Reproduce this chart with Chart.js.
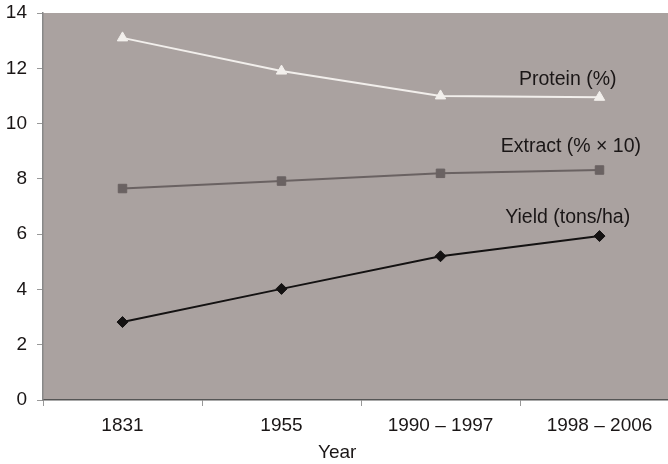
<!DOCTYPE html>
<html>
<head>
<meta charset="utf-8">
<script src="https://cdn.jsdelivr.net/npm/chart.js@4"></script>
<style>
  html, body { margin: 0; padding: 0; background: #fff; overflow: hidden; }
</style>
</head>
<body>
<canvas id="chartCanvas" width="686" height="464"></canvas>
<script>
// Data
const years = ['1831', '1955', '1990 \u2013 1997', '1998 \u2013 2006'];
const protein = [13.1, 11.9, 11.0, 10.95];
const extract = [7.65, 7.92, 8.2, 8.32];
const yieldTons = [2.82, 4.02, 5.2, 5.93];
const xTitle = 'Year';

// series labels drawn inside the plot (x = category index, y = value)
const seriesLabels = [
  { text: 'Protein (%)', x: 2.8, y: 11.6 },
  { text: 'Extract (% \u00d7 10)', x: 2.82, y: 9.15 },
  { text: 'Yield (tons/ha)', x: 2.8, y: 6.58 }
];

const fontFam = '"Liberation Sans", Arial, Helvetica, sans-serif';
const textColor = '#1a1616';

// grey plot background, in-plot labels and the x title
const plotBg = {
  id: 'plotBg',
  beforeDraw(chart) {
    const { ctx, chartArea: a } = chart;
    ctx.save();
    ctx.fillStyle = '#aaa2a0';
    ctx.fillRect(a.left, a.top, a.right - a.left, a.bottom - a.top);
    ctx.restore();
  },
  afterDatasetsDraw(chart) {
    const { ctx, scales, chartArea: a } = chart;
    ctx.save();
    ctx.fillStyle = textColor;
    ctx.font = '19.5px ' + fontFam;
    ctx.textAlign = 'center';
    ctx.textBaseline = 'middle';
    seriesLabels.forEach(l => {
      ctx.fillText(l.text, scales.x.getPixelForValue(l.x), scales.y.getPixelForValue(l.y));
    });
    // axis title sits a bit left of the plot centre in the original
    ctx.font = '19px ' + fontFam;
    ctx.fillText(xTitle, scales.x.getPixelForValue(1.35), a.bottom + 53);
    ctx.restore();
  }
};

new Chart(document.getElementById('chartCanvas'), {
  type: 'line',
  data: {
    labels: years,
    datasets: [
      {
        label: 'Protein (%)', data: protein,
        borderColor: '#f2efec', backgroundColor: '#f2efec', borderWidth: 2,
        pointStyle: 'triangle', pointRadius: 6, pointBorderWidth: 1
      },
      {
        label: 'Extract (% x 10)', data: extract,
        borderColor: '#6a6262', backgroundColor: '#6a6262', borderWidth: 2,
        pointStyle: 'rect', pointRadius: 6, pointBorderWidth: 1
      },
      {
        label: 'Yield (tons/ha)', data: yieldTons,
        borderColor: '#141212', backgroundColor: '#141212', borderWidth: 2,
        pointStyle: 'rectRot', pointRadius: 5.5, pointBorderWidth: 1
      }
    ]
  },
  options: {
    responsive: false,
    animation: false,
    layout: { padding: { top: 0, right: 2, left: 0, bottom: 0 } },
    plugins: {
      legend: { display: false },
      tooltip: { enabled: false }
    },
    scales: {
      x: {
        offset: true,
        grid: { offset: true, drawOnChartArea: false, color: '#999', tickLength: 6 },
        border: { color: '#555', width: 1.5 },
        ticks: { color: textColor, font: { size: 19, family: fontFam }, padding: 8, maxRotation: 0 },
        afterFit(scale) {
          scale.height = 64;
          scale.paddingLeft = 0;
          scale.paddingRight = 0;
        }
      },
      y: {
        min: 0, max: 14,
        ticks: { stepSize: 2, color: textColor, font: { size: 19, family: fontFam }, padding: 10 },
        grid: { drawOnChartArea: false, color: '#999', tickLength: 6 },
        border: { color: '#888', width: 1.5 },
        afterFit(scale) {
          scale.width = 43;
          scale.paddingTop = 13;
          scale.paddingBottom = 0;
        }
      }
    }
  },
  plugins: [plotBg]
});
</script>
</body>
</html>
